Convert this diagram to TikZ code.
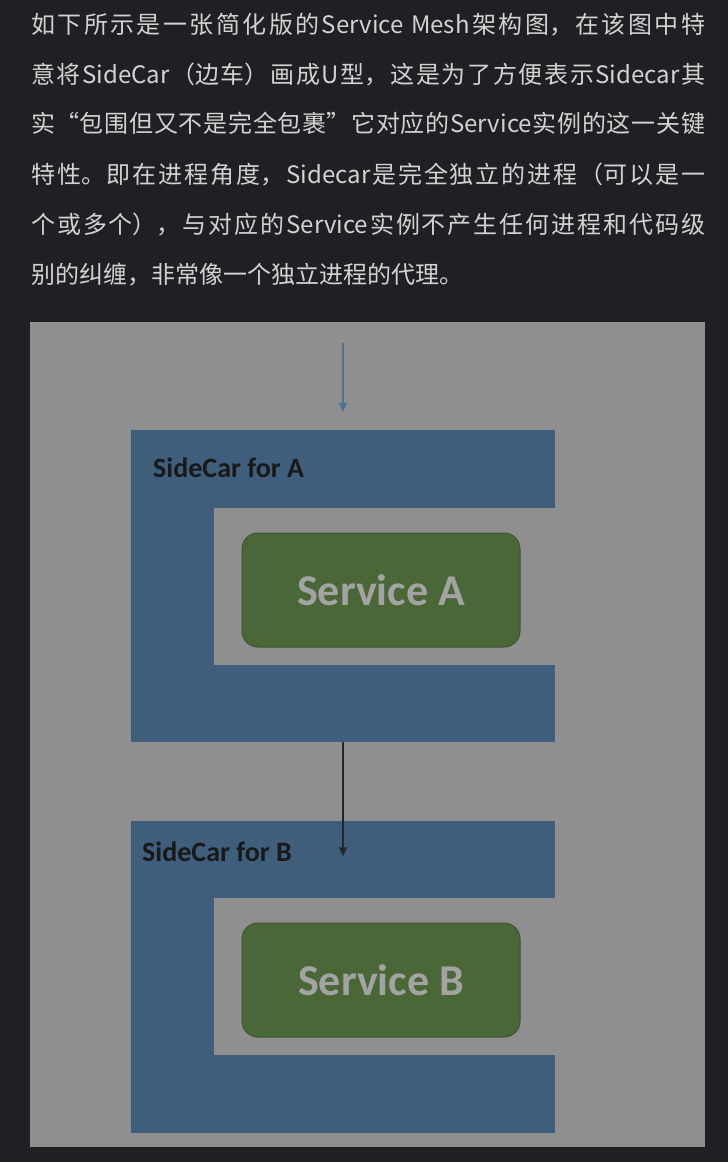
\documentclass[tikz,border=0pt]{standalone}
\usepackage{fontspec}
\usepackage{xcolor}
\usetikzlibrary{arrows.meta,positioning}
\newfontfamily\cjkfont{Noto Sans CJK SC}
\newfontfamily\labelfont{Carlito}
\XeTeXlinebreaklocale "zh"
\XeTeXlinebreakskip=0pt plus 3pt
\definecolor{pagedark}{HTML}{1F2023}
\definecolor{textgray}{HTML}{D2D2D2}
\definecolor{panelgray}{HTML}{8F8F8F}
\definecolor{sidecarblue}{HTML}{3F5E7B}
\definecolor{servicegreen}{HTML}{4A6737}
\definecolor{serviceedge}{HTML}{3C5530}
\definecolor{servicetext}{HTML}{A3A3A3}
\definecolor{arrowblue}{HTML}{4E7196}
\newcommand{\fullline}[1]{{\parfillskip=0pt #1\par}}
\tikzset{
  textline/.style={anchor=base west, inner sep=0pt, text=textgray,
    text width=674pt, align=justify,
    font=\cjkfont\fontsize{24}{24}\selectfont},
  lastline/.style={textline, align=left},
  sidecar/.style={fill=sidecarblue, draw=none, inner sep=0pt,
    minimum width=424pt, minimum height=312pt},
  carlabel/.style={anchor=base west, inner sep=0pt, text=black!90,
    font=\labelfont\bfseries\fontsize{28}{28}\selectfont},
  service/.style={fill=servicegreen, draw=serviceedge, line width=1pt,
    rounded corners=16pt, minimum width=278pt, minimum height=114pt,
    text=servicetext, font=\labelfont\bfseries\fontsize{44}{44}\selectfont},
  flow/.style={line width=1.2pt, -{Triangle[length=9pt,width=8pt]}}
}
\begin{document}
\begin{tikzpicture}[x=1pt,y=-1pt]
    % Page and panel
    \fill[pagedark] (0,0) rectangle (728,1162);
    \fill[panelgray] (30,322) rectangle (705,1147);

    % Intro text
    \node[textline] (line1) at (31,33) {\fullline{如下所示是一张简化版的Service Mesh架构图，在该图中特}};
    \node[textline] (line2) at (31,83) {\fullline{意将SideCar（边车）画成U型，这是为了方便表示Sidecar其}};
    \node[textline] (line3) at (31,132) {\fullline{实“包围但又不是完全包裹”它对应的Service实例的这一关键}};
    \node[textline] (line4) at (31,183) {\fullline{特性。即在进程角度，Sidecar是完全独立的进程（可以是一}};
    \node[textline] (line5) at (31,233) {\fullline{个或多个），与对应的Service实例不产生任何进程和代码级}};
    \node[lastline] (line6) at (31,283) {别的纠缠，非常像一个独立进程的代理。};

    % SideCar for A
    \node[sidecar] (carA) at (343,586) {};
    \fill[panelgray] (214,508) rectangle (556,665);
    \node[carlabel] (labelA) at (153,477) {SideCar for A};
    \node[service] (svcA) at (381,590) {Service A};

    % SideCar for B
    \node[sidecar] (carB) at (343,976.5) {};
    \fill[panelgray] (214,898) rectangle (556,1055);
    \node[carlabel] (labelB) at (142,861) {SideCar for B};
    \node[service] (svcB) at (381,980) {Service B};

    % Requests
    \coordinate (inA) at (343,343);
    \draw[flow, arrowblue] (inA) -- ([yshift=18pt]carA.north);
    \draw[flow, black!85] (carA.south) -- ([yshift=-36pt]carB.north);
\end{tikzpicture}
\end{document}
